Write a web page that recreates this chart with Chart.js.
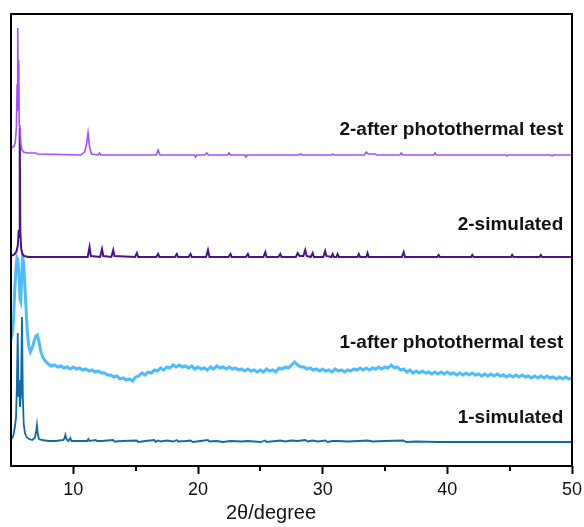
<!DOCTYPE html>
<html>
<head>
<meta charset="utf-8">
<title>XRD patterns</title>
<script src="https://cdn.jsdelivr.net/npm/chart.js@4/dist/chart.umd.min.js"></script>
<style>
  body { margin: 0; background: #fff; }
  #wrap { width: 584px; height: 527px; }
</style>
</head>
<body>
<div id="wrap"><canvas id="xrdChart" width="584" height="527"></canvas></div>
<script>
// Patterns as [2θ, intensity] pairs, intensity relative to each trace's own baseline
const sim1 = [
  [5.00,3],[5.10,4],[5.20,7],[5.30,14],[5.40,24],[5.47,55],[5.54,109],[5.60,45],[5.66,62],[5.72,35],
  [5.80,48],[5.88,125],[5.95,45],[6.02,18],[6.12,9],[6.25,5],[6.45,3],[6.70,2],[6.90,4],[7.00,9],
  [7.08,17],[7.15,8],[7.25,3],[7.50,2],[8.00,1],[8.60,1],[9.20,2],[9.30,4],[9.36,7],[9.44,3],
  [9.60,1],[9.76,4],[9.85,1],[10.40,1],[11.10,1],[11.20,3],[11.30,1],[11.80,2],[11.90,1],[12.30,1],
  [13.20,2],[13.30,0.5],[14.00,1],[15.10,1.5],[15.20,0],[15.80,1],[16.50,2],[16.60,0],[16.80,1.5],[17.00,0.5],
  [17.50,1.5],[18.00,0.5],[18.30,2],[18.40,0.5],[19.00,1],[19.40,1.5],[19.60,0],[20.80,2],[20.90,0.5],[21.50,1],
  [22.00,0],[22.60,1],[23.50,0.5],[24.00,1],[25.00,0],[25.40,1.5],[25.50,0],[26.60,1.5],[27.00,0.5],[27.50,1.5],
  [28.00,1],[28.60,2],[28.80,0.5],[29.20,1.5],[29.60,0.5],[30.20,1.5],[30.40,0],[30.80,1],[31.20,1],[32.00,0.5],
  [32.90,1],[33.60,1.5],[34.00,0.5],[35.00,1],[36.50,1.5],[36.70,0],[37.50,0.5],[39.30,0],[42.00,0],[50.00,0]
];

const after1 = [
  [5.00,47],[5.10,52],[5.20,66],[5.30,96],[5.40,118],[5.48,128],[5.56,126],[5.64,108],[5.72,86],[5.78,84],
  [5.85,106],[5.92,128],[6.00,124],[6.08,108],[6.18,84],[6.30,55],[6.42,40],[6.55,34],[6.70,38],[6.85,45],
  [7.00,50],[7.12,51],[7.25,44],[7.40,34],[7.55,29],[7.75,25],[8.00,22],
  [8.25,20],[8.50,21],[8.75,19],[9.00,20],[9.25,18],[9.50,19],[9.75,17],[10.00,19],[10.25,17],[10.50,18],
  [10.75,16],[11.00,17],[11.25,15],[11.50,16],[11.75,14],[12.00,15],[12.25,13],[12.50,13],[12.75,11],[13.00,11],
  [13.25,9],[13.50,10],[13.75,7],[14.00,8],[14.25,6],[14.50,7],[14.75,5],[15.00,9],[15.25,10],[15.50,13],
  [15.75,11],[16.00,14],[16.25,13],[16.50,16],[16.75,15],[17.00,18],[17.25,16],[17.50,19],[17.75,18],[18.00,21],
  [18.25,19],[18.50,21],[18.75,19],[19.00,20],[19.25,18],[19.50,20],[19.75,17],[20.00,19],[20.25,17],[20.50,18],
  [20.75,16],[21.00,19],[21.25,17],[21.50,20],[21.75,18],[22.00,19],[22.25,17],[22.50,19],[22.75,17],[23.00,18],
  [23.25,16],[23.50,17],[23.75,15],[24.00,17],[24.25,15],[24.50,16],[24.75,14],[25.00,16],[25.25,14],[25.50,17],
  [25.75,15],[26.00,16],[26.25,14],[26.50,18],[26.75,17],[27.00,19],[27.25,18],[27.50,21],[27.75,24],[28.00,21],
  [28.25,19],[28.50,19],[28.75,17],[29.00,18],[29.25,16],[29.50,17],[29.75,15],[30.00,17],[30.25,15],[30.50,16],
  [30.75,14],[31.00,17],[31.25,15],[31.50,16],[31.75,14],[32.00,16],[32.25,15],[32.50,17],[32.75,16],[33.00,18],
  [33.25,16],[33.50,18],[33.75,16],[34.00,18],[34.25,17],[34.50,19],[34.75,17],[35.00,19],[35.25,18],[35.50,21],
  [35.75,18],[36.00,19],[36.25,16],[36.50,17],[36.75,14],[37.00,16],[37.25,13],[37.50,15],[37.75,13],[38.00,15],
  [38.25,13],[38.50,14],[38.75,12],[39.00,14],[39.25,12],[39.50,14],[39.75,12],[40.00,14],[40.25,12],[40.50,13],
  [40.75,11],[41.00,13],[41.25,11],[41.50,13],[41.75,11],[42.00,13],[42.25,11],[42.50,12],[42.75,10],[43.00,12],
  [43.25,10],[43.50,12],[43.75,10],[44.00,12],[44.25,10],[44.50,11],[44.75,9],[45.00,11],[45.25,9],[45.50,11],
  [45.75,9],[46.00,11],[46.25,9],[46.50,10],[46.75,8],[47.00,10],[47.25,8],[47.50,10],[47.75,8],[48.00,10],
  [48.25,8],[48.50,9],[48.75,7],[49.00,9],[49.25,7],[49.50,9],[49.75,7],[50.00,8]
];

const sim2 = [
  [5.00,1],[5.20,2],[5.30,3],[5.45,6],[5.55,12],[5.62,27],[5.65,20],[5.70,129],[5.75,25],[5.82,8],
  [5.92,3],[6.05,1],[6.40,0],[11.15,0],[11.30,10],[11.40,1],[12.15,0],[12.30,8],[12.40,1],[13.05,0],
  [13.20,7],[13.30,1],[14.95,0],[15.10,4],[15.20,0],[16.65,0],[16.80,3],[16.90,0],[18.15,0],[18.30,3],
  [18.40,0],[19.25,0],[19.40,3],[19.50,0],[20.65,0],[20.80,7],[20.92,0],[22.45,0],[22.60,3],[22.70,0],
  [23.85,0],[24.00,3],[24.10,0],[25.25,0],[25.40,5],[25.50,0],[26.45,0],[26.60,3],[26.70,0],[27.85,0],
  [28.00,4],[28.15,1],[28.45,1],[28.60,7],[28.72,1],[29.05,0],[29.20,4],[29.30,0],[30.05,0],[30.20,6],
  [30.30,1],[30.70,0],[30.80,3],[30.90,0],[31.10,0],[31.20,3],[31.30,0],[32.80,0],[32.90,3],[33.00,0],
  [33.50,0],[33.60,4],[33.70,0],[36.35,0],[36.50,5],[36.60,0],[39.20,0],[39.30,2],[39.40,0],[41.90,0],
  [42.00,2],[42.10,0],[45.10,0],[45.20,2],[45.30,0],[47.40,0],[47.50,2],[47.60,0],[50.00,0]
];

const after2 = [
  [5.00,7],[5.15,8],[5.25,9],[5.35,13],[5.43,28],[5.49,70],[5.54,127],[5.58,45],[5.62,95],[5.66,30],
  [5.72,27],[5.78,12],[5.88,5],[6.00,3],[6.30,2],[7.00,2],[7.10,1],[9.00,0.5],[10.60,0],[10.90,3],
  [11.05,10],[11.18,22],[11.30,8],[11.45,1],[12.00,0],[12.10,2],[12.20,0],[16.65,0],[16.80,5],[16.95,0],
  [19.70,0],[19.80,-2],[19.90,0],[20.55,0],[20.70,2],[20.85,0],[22.40,0],[22.50,2],[22.60,0],[23.75,0],
  [23.85,-2],[23.95,0],[28.10,0],[28.20,1],[28.35,0],[30.70,0],[30.80,1],[30.90,0],[33.35,0],[33.50,3],
  [33.65,1],[34.20,1],[34.35,0],[36.20,0],[36.30,2],[36.40,0],[38.90,0],[39.00,2],[39.10,0],[44.70,0],
  [44.80,-1],[44.90,0],[48.30,0],[48.40,-1],[48.50,0],[50.00,0]
];

// Vertical shift that stacks the traces (intensity units)
const seriesNames = ["2-after photothermal test", "2-simulated", "1-simulated", "1-after photothermal test"];
const seriesData = [after2, sim2, sim1, after1];
const offsets = [311, 209, 24, 80];
const xTicks = [10, 20, 30, 40, 50];
const xMinorTicks = [15, 25, 35, 45];

const colors = ["#A64DFF", "#4B1191", "#0E6BA8", "#4DBBFF"];
const widths = [1.6, 2, 1.8, 3];
const labelLevels = [331, 236, 43, 118];

function shift(points, off) {
  return points.map(([x, y]) => ({ x: x, y: y + off }));
}

// frame, minor ticks, trace names and axis title
const decorations = {
  id: "decorations",
  afterDraw(chart) {
    const { ctx, chartArea: a, scales } = chart;
    const xs = scales.x, ys = scales.y;
    ctx.save();
    ctx.strokeStyle = "#000";
    ctx.lineWidth = 2;
    ctx.strokeRect(a.left, a.top, a.right - a.left, a.bottom - a.top);

    ctx.beginPath();
    xMinorTicks.forEach((v) => {
      const px = Math.round(xs.getPixelForValue(v));
      ctx.moveTo(px, a.bottom);
      ctx.lineTo(px, a.bottom + 5);
    });
    ctx.stroke();

    ctx.fillStyle = "#111";
    ctx.font = "bold 19px 'Liberation Sans', Arial, sans-serif";
    ctx.textAlign = "right";
    ctx.textBaseline = "alphabetic";
    seriesNames.forEach((name, i) => {
      ctx.fillText(name, xs.getPixelForValue(49.3), ys.getPixelForValue(labelLevels[i]));
    });

    ctx.font = "20px 'Liberation Sans', Arial, sans-serif";
    ctx.textAlign = "center";
    ctx.fillText("2θ/degree", 271, 519);
    ctx.restore();
  }
};

const ctx = document.getElementById("xrdChart").getContext("2d");
new Chart(ctx, {
  type: "line",
  data: {
    datasets: seriesData.map((pts, i) => ({
      label: seriesNames[i],
      data: shift(pts, offsets[i]),
      borderColor: colors[i],
      borderWidth: widths[i],
      pointRadius: 0,
      tension: 0,
      fill: false,
    })),
  },
  options: {
    responsive: false,
    animation: false,
    layout: { padding: { left: 11, right: 12, top: 14, bottom: 0 } },
    plugins: { legend: { display: false }, tooltip: { enabled: false } },
    scales: {
      x: {
        type: "linear",
        min: 5,
        max: 50,
        afterBuildTicks: (scale) => {
          scale.ticks = xTicks.map((v) => ({ value: v }));
        },
        afterFit: (scale) => {
          scale.height = 61;
          // the "50" label may overhang the right edge, like the original plot
          scale.paddingLeft = 0;
          scale.paddingRight = 0;
        },
        border: { display: false },
        grid: {
          drawOnChartArea: false,
          drawTicks: true,
          tickLength: 8,
          tickWidth: 2,
          tickColor: "#000",
        },
        ticks: {
          padding: 5,
          color: "#111",
          font: { family: "'Liberation Sans', Arial, sans-serif", size: 18 },
          maxRotation: 0,
        },
      },
      y: {
        display: false,
        min: 0,
        max: 452,
      },
    },
  },
  plugins: [decorations],
});
</script>
</body>
</html>
